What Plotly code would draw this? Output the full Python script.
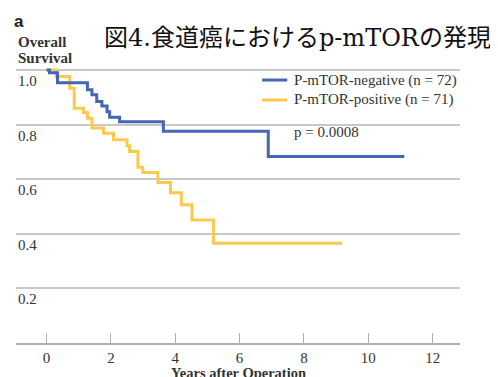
import plotly.graph_objects as go

# Kaplan-Meier step data (years, survival)
neg_t = [0, 0.09, 0.34, 1.27, 1.41, 1.56, 1.72, 1.88, 1.96, 2.27, 3.63, 6.89, 11.12]
neg_s = [1.0, 0.99, 0.953, 0.927, 0.909, 0.884, 0.868, 0.847, 0.827, 0.810, 0.775, 0.683, 0.683]
pos_t = [0, 0.30, 0.72, 0.86, 1.15, 1.27, 1.41, 1.77, 2.08, 2.50, 2.58, 2.84, 2.99,
         3.46, 3.85, 4.19, 4.52, 5.19, 9.19]
pos_s = [1.0, 0.976, 0.933, 0.860, 0.844, 0.823, 0.787, 0.768, 0.744, 0.722, 0.701, 0.644,
         0.624, 0.588, 0.550, 0.506, 0.450, 0.365, 0.365]

x_ticks = [0, 2, 4, 6, 8, 10, 12]
y_ticks = [0.2, 0.4, 0.6, 0.8, 1.0]
y_tick_labels = ["0.2", "0.4", "0.6", "0.8", "1.0"]
legend_names = ["P-mTOR-negative (n = 72)", "P-mTOR-positive (n = 71)"]
p_text = "p = 0.0008"
title_text = "図4.食道癌におけるp-mTORの発現"

BLUE = "#4466b4"
YELLOW = "#fbc94e"
SERIF = "Liberation Serif, Times New Roman, serif"
TXT = "#333333"

fig = go.Figure()
fig.add_trace(go.Scatter(x=pos_t, y=pos_s, mode="lines", line_shape="hv",
                         line=dict(color=YELLOW, width=3),
                         name=legend_names[1], showlegend=False))
fig.add_trace(go.Scatter(x=neg_t, y=neg_s, mode="lines", line_shape="hv",
                         line=dict(color=BLUE, width=3),
                         name=legend_names[0], showlegend=False))

# legend drawn as short lines in data coordinates
for name, col, yv in [(legend_names[0], BLUE, 0.963), (legend_names[1], YELLOW, 0.890)]:
    fig.add_trace(go.Scatter(x=[6.70, 7.48], y=[yv, yv], mode="lines",
                             line=dict(color=col, width=3), showlegend=False, hoverinfo="skip"))
    fig.add_annotation(x=7.64, y=yv, xref="x", yref="y", text=name, showarrow=False,
                       xanchor="left", yanchor="middle",
                       font=dict(family=SERIF, size=15, color=TXT))

fig.add_annotation(x=7.64, y=0.772, xref="x", yref="y", text=p_text, showarrow=False,
                   xanchor="left", yanchor="middle",
                   font=dict(family=SERIF, size=15, color=TXT))

for v, lab in zip(y_ticks, y_tick_labels):
    fig.add_annotation(x=0, y=v, xref="paper", yref="y", text=lab, showarrow=False,
                       xanchor="left", yanchor="top", yshift=-1,
                       font=dict(family=SERIF, size=15, color=TXT))

fig.add_annotation(x=0, y=1, xref="paper", yref="paper", text="<b>Overall</b>",
                   showarrow=False, xanchor="left", yanchor="middle", yshift=14.5,
                   font=dict(family=SERIF, size=15, color=TXT))
fig.add_annotation(x=0, y=1, xref="paper", yref="paper", text="<b>Survival</b>",
                   showarrow=False, xanchor="left", yanchor="middle", yshift=-2,
                   font=dict(family=SERIF, size=15, color=TXT))
fig.add_annotation(x=-4 / 444, y=1, xref="paper", yref="paper", text="<b>a</b>",
                   showarrow=False, xanchor="left", yanchor="middle", yshift=35,
                   font=dict(family="Liberation Sans, Arial, sans-serif", size=17, color="#222222"))
fig.add_annotation(x=(94 - 8) / 444, y=1, xref="paper", yref="paper", text=title_text,
                   showarrow=False, xanchor="left", yanchor="middle", yshift=18,
                   font=dict(family="DejaVu Serif, Noto Sans CJK JP", size=24, color="#111111"))

fig.add_annotation(x=0.5, y=0, xref="paper", yref="paper", text="<b>Years after Operation</b>",
                   showarrow=False, xanchor="center", yanchor="top", yshift=-20,
                   font=dict(family=SERIF, size=14.5, color=TXT))

fig.update_layout(
    width=490, height=369,
    margin=dict(l=8, r=38, t=48, b=34),
    paper_bgcolor="white", plot_bgcolor="white",
    xaxis=dict(range=[-0.95, 12.85], tickvals=x_ticks, ticks="inside", ticklen=10,
               tickcolor="#b0b0b0", tickwidth=1, showgrid=False, zeroline=False,
               showline=True, linecolor="#b0b0b0", linewidth=1.5,
               tickfont=dict(family=SERIF, size=15, color=TXT)),
    yaxis=dict(range=[0, 1.051], tickvals=y_ticks, showticklabels=False, showgrid=True,
               gridcolor="#c8c8c8", gridwidth=1.5, zeroline=False, showline=False),
)

fig.write_html("out.html")
